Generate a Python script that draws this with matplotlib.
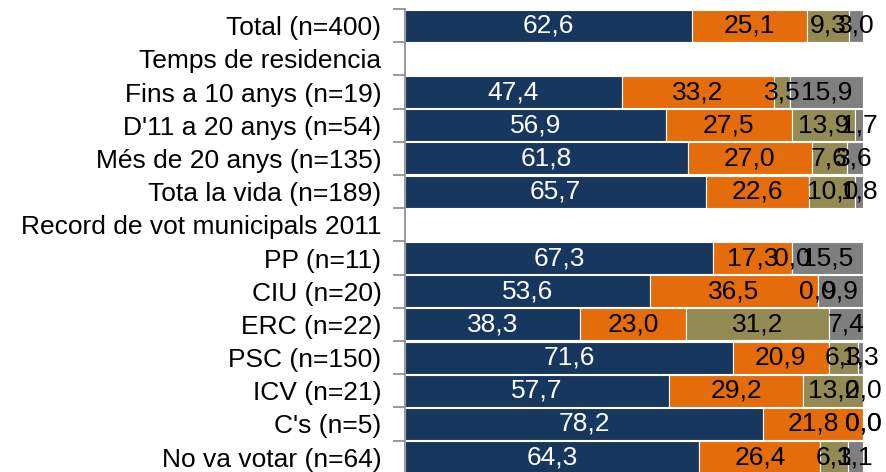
import numpy as np
import matplotlib.pyplot as plt

plt.rcParams['font.family'] = ['Liberation Sans', 'DejaVu Sans']

categories = ['Total (n=400)', 'Temps de residencia', 'Fins a 10 anys (n=19)',
              "D'11 a 20 anys (n=54)", 'Més de 20 anys (n=135)',
              'Tota la vida (n=189)', 'Record de vot municipals 2011',
              'PP (n=11)', 'CIU (n=20)', 'ERC (n=22)', 'PSC (n=150)',
              'ICV (n=21)', "C's (n=5)", 'No va votar (n=64)']
nan = np.nan
s1 = [62.6, nan, 47.4, 56.9, 61.8, 65.7, nan, 67.3, 53.6, 38.3, 71.6, 57.7, 78.2, 64.3]
s2 = [25.1, nan, 33.2, 27.5, 27.0, 22.6, nan, 17.3, 36.5, 23.0, 20.9, 29.2, 21.8, 26.4]
s3 = [9.3, nan, 3.5, 13.9, 7.6, 10.0, nan, 0.0, 0.0, 31.2, 6.3, 13.2, 0.0, 6.1]
s4 = [3.0, nan, 15.9, 1.7, 3.6, 1.8, nan, 15.5, 9.9, 7.4, 1.3, 0.0, 0.0, 3.1]

series = [s1, s2, s3, s4]
colors = ['#17375E', '#E46C0A', '#948A54', '#7F7F7F']
text_colors = ['white', 'black', 'black', 'black']

fig = plt.figure(figsize=[8.87, 4.72], dpi=100)
ax = fig.add_axes([405 / 887, -0.0038, 458 / 887, 0.9847])

y = np.arange(len(categories))
left = np.zeros(len(categories))
for vals, c, tc in zip(series, colors, text_colors):
    v = np.array(vals, dtype=float)
    ax.barh(y, np.nan_to_num(v), left=left, height=0.96, color=c,
            edgecolor='white', linewidth=0.8)
    for yi, (l, w) in enumerate(zip(left, v)):
        if np.isnan(w):
            continue
        ax.text(l + w / 2, yi, f'{w:.1f}'.replace('.', ','), ha='center',
                va='center', color=tc, fontsize=19)
    left = left + np.nan_to_num(v)

ax.set_xlim(0, 100)
ax.set_ylim(len(categories) - 0.5, -0.5)
ax.set_yticks(y)
ax.set_yticklabels(categories, fontsize=19)
ax.set_yticks(np.arange(len(categories) + 1) - 0.5, minor=True)
ax.tick_params(axis='y', which='major', length=0, pad=17)
ax.tick_params(axis='y', which='minor', length=9, color='#888888', width=1.2)
ax.set_xticks([])
for s in ['top', 'right', 'bottom']:
    ax.spines[s].set_visible(False)
ax.spines['left'].set_color('#888888')
ax.spines['left'].set_linewidth(1.2)

fig.savefig('out.png', dpi=100)
